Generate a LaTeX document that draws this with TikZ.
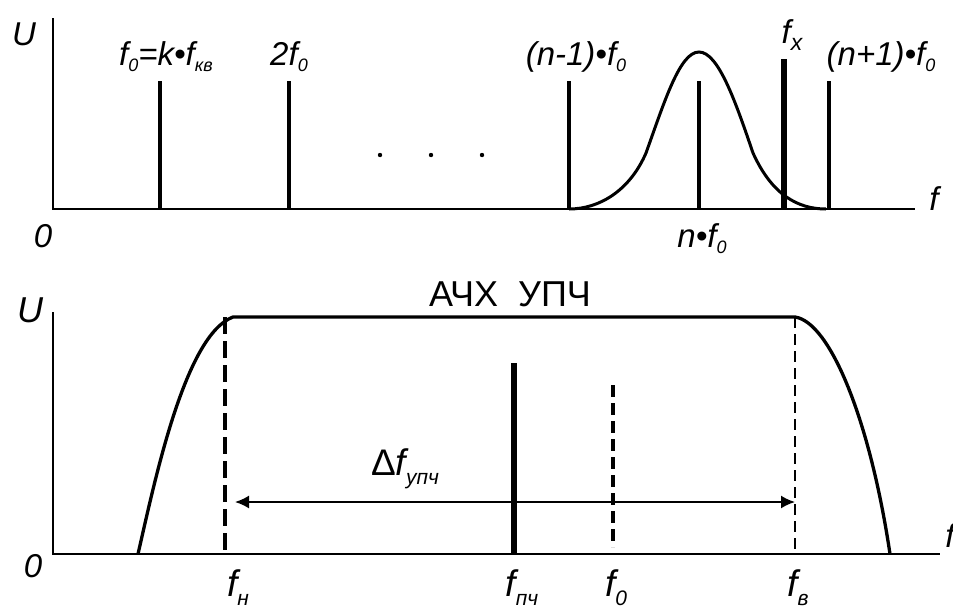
\documentclass[tikz,border=0pt]{standalone}
\usepackage{fontspec}
\setmainfont{Liberation Sans}
\usetikzlibrary{arrows.meta}
\newcommand\tsub[1]{\raisebox{-6pt}{\fontsize{18}{20}\selectfont #1}}
\newcommand\bsub[1]{\raisebox{-9pt}{\fontsize{21}{24}\selectfont #1}}
\begin{document}
\begin{tikzpicture}[x=1pt,y=-1pt,
  axis/.style={line width=1.8pt},
  spec/.style={line width=3.4pt},
  thickspec/.style={line width=5.6pt},
  curve/.style={line width=3pt},
  tl/.style={inner sep=0pt,anchor=base,font=\fontsize{33}{38}\selectfont\itshape},
  bl/.style={inner sep=0pt,anchor=base,font=\fontsize{37}{44}\selectfont\itshape},
  dashA/.style={line width=3.3pt,dash pattern=on 17pt off 7pt},
  dashB/.style={line width=2pt,dash pattern=on 11pt off 6pt},
  dashC/.style={line width=4pt,dash pattern=on 12pt off 6pt}]
\useasboundingbox (0,0) rectangle (953,606);

% ---------- top plot ----------
\coordinate (t0) at (53,209);
\coordinate (tytop) at (53,18);
\coordinate (txend) at (915,209);
\draw[axis] (tytop) -- (t0) -- (txend);

\foreach \n/\x in {a/160,b/289,c/569,d/699,e/829}{
  \coordinate (l\n top) at (\x,81);
  \coordinate (l\n bot) at (\x,209);
  \draw[spec] (l\n top) -- (l\n bot);
}
\coordinate (fxtop) at (784,59);
\coordinate (fxbot) at (784,209);
\draw[thickspec] (fxtop) -- (fxbot);

\fill (380,155) circle (2.2pt);
\fill (431,155) circle (2.2pt);
\fill (482,155) circle (2.2pt);

\draw[curve] (569,209) .. controls (600,209) and (630,190) .. (646,153)
  .. controls (665,100) and (680,52) .. (699,52)
  .. controls (718,52) and (735,100) .. (753,153)
  .. controls (772,195) and (798,209) .. (826,209);

\node[tl] (Ut) at (24,45) {U};
\node[tl] (Zt) at (43,247) {0};
\node[tl] (ft) at (934,210) {f};
\node[tl] (La) at (166,65) {f\tsub{0}=k•f\tsub{кв}};
\node[tl] (Lb) at (289,65) {2f\tsub{0}};
\node[tl] (Lc) at (576,65) {(n-1)•f\tsub{0}};
\node[tl] (Ld) at (702,247) {n•f\tsub{0}};
\node[tl] (Lx) at (792,43) {f\raisebox{-7pt}{\fontsize{23}{26}\selectfont x}};
\node[tl] (Le) at (881,65) {(n+1)•f\tsub{0}};

% ---------- bottom plot ----------
\coordinate (b0) at (53,554);
\coordinate (bytop) at (53,312);
\coordinate (bxend) at (940,554);
\draw[axis] (bytop) -- (b0) -- (bxend);

\coordinate (cl) at (138,554);
\coordinate (cr) at (890,554);
\draw[curve,line width=3.3pt] (cl) .. controls (155,480) and (185,335) .. (233,317)
  -- (795,317) .. controls (830,322) and (870,420) .. (cr);

\coordinate (fntop) at (225,317);
\coordinate (fnbot) at (225,554);
\draw[dashA] (fntop) -- (fnbot);
\coordinate (fvtop) at (795,317);
\coordinate (fvbot) at (795,554);
\draw[dashB] (fvtop) -- (fvbot);
\coordinate (fptop) at (514,363);
\coordinate (fpbot) at (514,554);
\draw[thickspec] (fptop) -- (fpbot);
\coordinate (fotop) at (613,385);
\coordinate (fobot) at (613,547);
\draw[dashC] (fotop) -- (fobot);

\coordinate (arL) at (235,502);
\coordinate (arR) at (795,502);
\draw[line width=1.8pt,{Latex[length=14pt,width=13pt]}-{Latex[length=14pt,width=13pt]}] (arL) -- (arR);

\node[inner sep=0pt,anchor=base,font=\fontsize{36}{42}\selectfont] (title) at (510,306) {АЧХ\ \ УПЧ};
\node[inner sep=0pt,anchor=base,font=\fontsize{36}{42}\selectfont] (Ub) at (30,322) {\itshape U};
\node[inner sep=0pt,anchor=base,font=\fontsize{33}{38}\selectfont\itshape] (Zb) at (33,577) {0};
\node[tl] (fb) at (950,547) {f};
\node[bl] (df) at (405,475) {\upshape Δ\itshape f\bsub{упч}};
\node[bl] (Ln) at (238,596) {f\bsub{н}};
\node[bl] (Lp) at (522,596) {f\bsub{пч}};
\node[bl] (Lo) at (616,596) {f\bsub{0}};
\node[bl] (Lv) at (798,596) {f\bsub{в}};
\end{tikzpicture}
\end{document}
